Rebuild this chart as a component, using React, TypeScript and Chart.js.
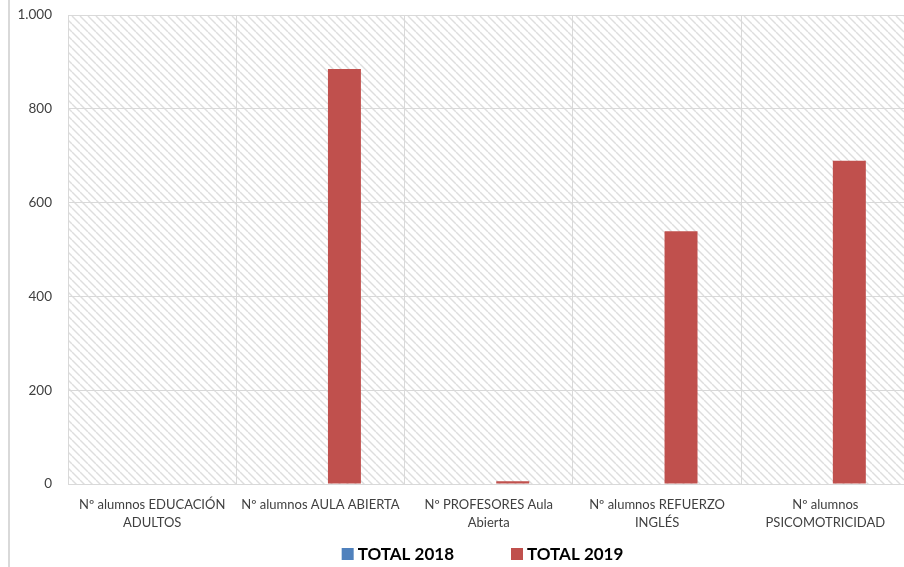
import React, { useEffect, useRef } from "react";
import { Chart, registerables } from "chart.js";

Chart.register(...registerables);

const categories: string[][] = [
  ["Nº alumnos EDUCACIÓN", "ADULTOS"],
  ["Nº alumnos AULA ABIERTA"],
  ["Nº PROFESORES Aula", "Abierta"],
  ["Nº alumnos REFUERZO", "INGLÉS"],
  ["Nº alumnos", "PSICOMOTRICIDAD"],
];
const seriesNames = ["TOTAL 2018", "TOTAL 2019"];
const seriesColors = ["#4f81bd", "#c0504d"];
const total2018 = [0, 0, 0, 0, 0];
const total2019 = [0, 885, 6, 539, 689];
const yTicks = [0, 200, 400, 600, 800, 1000];

const CANVAS_W = 940;
const CANVAS_H = 567;
const FONT = "Lato, 'Open Sans', sans-serif";

function makePattern(): CanvasPattern | string {
  const c = document.createElement("canvas");
  c.width = 8;
  c.height = 8;
  const g = c.getContext("2d");
  if (!g) return "#ffffff";
  g.fillStyle = "#ffffff";
  g.fillRect(0, 0, 8, 8);
  g.strokeStyle = "#dedede";
  g.lineWidth = 1.4;
  for (const k of [-8, 0, 8]) {
    g.beginPath();
    g.moveTo(k, 0);
    g.lineTo(k + 8, 8);
    g.stroke();
  }
  const p = g.createPattern(c, "repeat");
  return p || "#ffffff";
}

const bgPlugin = {
  id: "bgPattern",
  beforeDraw(chart: any) {
    const { ctx, chartArea } = chart;
    ctx.save();
    ctx.fillStyle = "#ffffff";
    ctx.fillRect(0, 0, chart.width, chart.height);
    ctx.fillStyle = makePattern();
    ctx.fillRect(chartArea.left, chartArea.top, chartArea.right - chartArea.left, chartArea.bottom - chartArea.top);
    ctx.strokeStyle = "#d9d9d9";
    ctx.lineWidth = 2;
    ctx.beginPath();
    ctx.moveTo(9, 0);
    ctx.lineTo(9, chart.height);
    ctx.stroke();
    ctx.restore();
  },
  afterDraw(chart: any) {
    // Legend (Excel-style spacing), drawn from the dataset labels/colours
    const { ctx } = chart;
    const datasets = chart.data.datasets;
    ctx.save();
    ctx.font = `bold 17px ${FONT}`;
    ctx.textBaseline = "middle";
    ctx.textAlign = "left";
    const box = 12;
    const textGap = 4;
    const itemGap = 57;
    const widths = datasets.map((d: any) => box + textGap + ctx.measureText(d.label).width);
    const total = widths.reduce((a: number, b: number) => a + b, 0) + itemGap * (widths.length - 1);
    const centerX = 482.5;
    const cy = 554;
    let x = centerX - total / 2;
    datasets.forEach((d: any, i: number) => {
      ctx.fillStyle = d.backgroundColor;
      ctx.fillRect(x, cy - box / 2, box, box);
      ctx.fillStyle = "#000000";
      ctx.fillText(d.label, x + box + textGap, cy + 1);
      x += widths[i] + itemGap;
    });
    ctx.restore();
  },
};

export default function App() {
  const ref = useRef<HTMLCanvasElement | null>(null);

  useEffect(() => {
    document.body.style.margin = "0";
    const canvas = ref.current;
    if (!canvas) return;
    const chart = new Chart(canvas, {
      type: "bar",
      data: {
        labels: categories,
        datasets: [
          {
            label: seriesNames[0],
            data: total2018,
            backgroundColor: seriesColors[0],
            borderWidth: 0,
          },
          {
            label: seriesNames[1],
            data: total2019,
            backgroundColor: seriesColors[1],
            borderWidth: 0,
          },
        ],
      },
      options: {
        animation: false,
        responsive: false,
        maintainAspectRatio: false,
        devicePixelRatio: 1,
        layout: { padding: { left: 0, right: 30.5, top: 15, bottom: 33 } },
        datasets: {
          bar: { categoryPercentage: 0.57, barPercentage: 0.6875 },
        },
        scales: {
          x: {
            grid: { color: "#d9d9d9", lineWidth: 1, drawTicks: false, offset: true },
            border: { color: "#d9d9d9", width: 1 },
            ticks: {
              autoSkip: false,
              maxRotation: 0,
              minRotation: 0,
              padding: 12,
              color: "#404040",
              font: { family: FONT, size: 13, lineHeight: 1.4 },
            },
            afterFit(scale: any) {
              scale.height = 50;
              scale.paddingLeft = 0;
              scale.paddingRight = 0;
            },
          },
          y: {
            min: 0,
            max: 1000,
            afterBuildTicks(scale: any) {
              scale.ticks = yTicks.map((v) => ({ value: v }));
            },
            grid: { color: "#d9d9d9", lineWidth: 1, drawTicks: false },
            border: { color: "#d9d9d9", width: 1 },
            ticks: {
              padding: 16,
              color: "#404040",
              font: { family: FONT, size: 13.5 },
              callback: (v: any) => String(v).replace(/\B(?=(\d{3})+(?!\d))/g, "."),
            },
            afterFit(scale: any) {
              scale.width = 68;
              scale.paddingTop = 0;
              scale.paddingBottom = 0;
            },
          },
        },
        plugins: {
          legend: { display: false },
          title: { display: false },
          tooltip: { enabled: false },
        },
      },
      plugins: [bgPlugin],
    } as any);
    return () => chart.destroy();
  }, []);

  return (
    <div style={{ position: "relative", width: 904, height: 567, overflow: "hidden" }}>
      <canvas ref={ref} width={CANVAS_W} height={CANVAS_H} style={{ width: CANVAS_W, height: CANVAS_H, display: "block" }} />
    </div>
  );
}
